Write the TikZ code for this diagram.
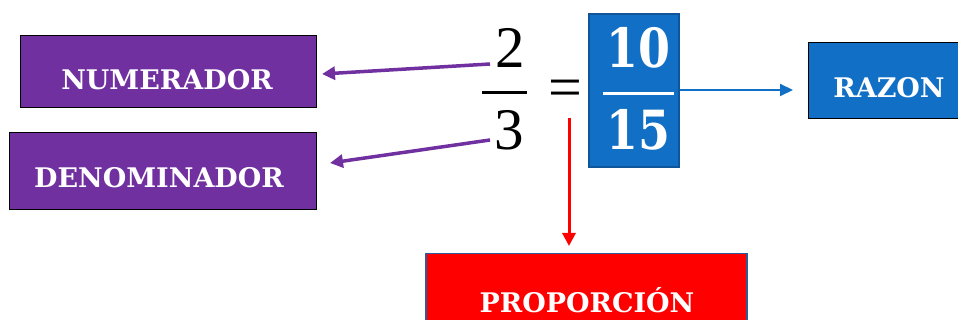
\documentclass[tikz,border=0pt]{standalone}
\usepackage{fontspec}
\newfontfamily\dvs{DejaVu Serif}
\newfontfamily\lbs{Liberation Serif}
\usetikzlibrary{arrows.meta}
\definecolor{purp}{HTML}{7030A0}
\definecolor{bluef}{HTML}{1170C6}
\definecolor{blued}{HTML}{0E559A}
\definecolor{redb}{HTML}{2E5C9A}
\tikzset{
  lbl/.style={text=white,inner sep=0pt,font=\dvs\bfseries\fontsize{27}{30}\selectfont},
  pbox/.style={draw=black,line width=1pt,fill=purp},
  digit/.style={inner sep=0pt,font=\lbs\fontsize{59}{62}\selectfont},
  bdigit/.style={inner sep=0pt,text=white,font=\dvs\bfseries\fontsize{54}{60}\selectfont},
  parr/.style={draw=purp,line width=3.5pt,-{Triangle[length=13pt,width=13pt]}},
}
\begin{document}
\begin{tikzpicture}[x=1pt,y=-1pt]
\useasboundingbox (0,0) rectangle (958,320);
% boxes
\node[pbox,minimum width=296pt,minimum height=72pt] (num) at (168,72) {};
\node[lbl] (numt) at (167,80) {NUMERADOR};
\node[pbox,minimum width=307pt,minimum height=77pt] (den) at (162.5,171.5) {};
\node[lbl] (dent) at (159,178) {DENOMINADOR};
\node[draw=black,line width=1pt,fill=bluef,minimum width=160pt,minimum height=76pt] (raz) at (888,81) {};
\node[lbl] (razt) at (889,88) {RAZON};
\node[draw=redb,line width=1.5pt,fill=red,minimum width=321pt,minimum height=80pt,anchor=north west] (prop) at (425,253) {};
\node[lbl] (propt) at (587,300) {PROPORCIÓN};
% fraction 2/3
\node[digit] (two) at (510,48) {2};
\node[digit] (three) at (509,130) {3};
\draw[line width=3pt] (482,93) -- (527,93);
\node[inner sep=0pt,font=\lbs\fontsize{60}{60}\selectfont] (eq) at (565,94) {=};
% blue fraction box
\node[draw=blued,line width=1.5pt,fill=bluef,minimum width=90pt,minimum height=153pt] (frac) at (634,90.5) {};
\node[bdigit] (ten) at (638,48) {\scalebox{0.85}[1]{10}};
\node[bdigit] (fifteen) at (638,130) {\scalebox{0.85}[1]{15}};
\draw[white,line width=3pt] (603,94) -- (674,94);
% arrows
\coordinate (s1) at (490,64);
\coordinate (e1) at (322,74);
\coordinate (s2) at (490,140);
\coordinate (e2) at (330,163);
\draw[parr] (s1) -- (e1);
\draw[parr] (s2) -- (e2);
\coordinate (b1) at (680,90);
\coordinate (b2) at (793,90);
\draw[draw=bluef,line width=2pt,-{Triangle[length=13pt,width=12pt]}] (b1) -- (b2);
\coordinate (r1) at (569,118);
\coordinate (r2) at (569,246);
\draw[draw=red,line width=3pt,-{Triangle[length=13pt,width=13pt]}] (r1) -- (r2);
\end{tikzpicture}
\end{document}
